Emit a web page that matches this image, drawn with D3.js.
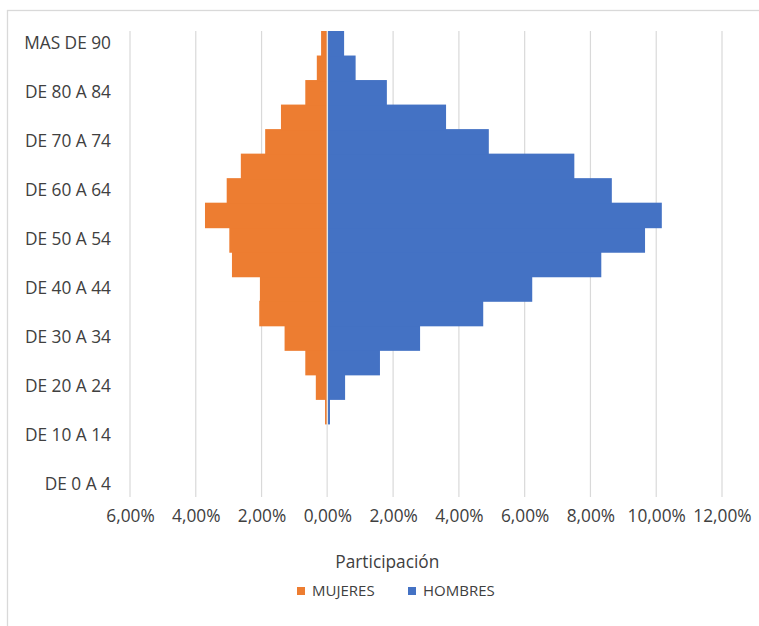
<!DOCTYPE html>
<html>
<head>
<meta charset="utf-8">
<script src="https://cdn.jsdelivr.net/npm/d3@7"></script>
<style>
  html, body { margin: 0; padding: 0; background: #fff; }
  svg { display: block; }
  text { font-family: "Open Sans", "Noto Sans", sans-serif; fill: #404040; }
</style>
</head>
<body>
<script>
const categories = ["DE 0 A 4","DE 5 A 9","DE 10 A 14","DE 15 A 19","DE 20 A 24","DE 25 A 29","DE 30 A 34","DE 35 A 39","DE 40 A 44","DE 45 A 49","DE 50 A 54","DE 55 A 59","DE 60 A 64","DE 65 A 69","DE 70 A 74","DE 75 A 79","DE 80 A 84","DE 85 A 89","MAS DE 90"];
const mujeres = [0,0,0,0.07,0.35,0.67,1.30,2.07,2.05,2.90,2.98,3.72,3.06,2.63,1.89,1.41,0.67,0.32,0.19];
const hombres = [0,0,0,0.08,0.54,1.60,2.82,4.74,6.23,8.33,9.66,10.17,8.65,7.51,4.91,3.61,1.81,0.86,0.51];
const seriesNames = ["MUJERES","HOMBRES"];
const seriesColors = ["#ED7D31","#4472C4"];
const xTicks = [-6,-4,-2,0,2,4,6,8,10,12];
const xTitle = "Participación";

const W = 759, H = 626;
const svg = d3.select("body").append("svg").attr("width", W).attr("height", H);

// chart border (top + left visible)
svg.append("rect").attr("x", 7.5).attr("y", 10.5).attr("width", W + 20).attr("height", H + 20)
  .attr("fill", "none").attr("stroke", "#d9d9d9").attr("stroke-width", 1.3);

const plot = {left: 130, right: 722, top: 31, bottom: 497};
const x = d3.scaleLinear().domain([-6, 12]).range([plot.left, plot.right]);
const y = d3.scaleBand().domain(categories.slice().reverse()).range([plot.top, plot.bottom]).padding(0);

// gridlines
svg.append("g").selectAll("line").data(xTicks).join("line")
  .attr("x1", d => x(d)).attr("x2", d => x(d))
  .attr("y1", plot.top).attr("y2", plot.bottom)
  .attr("stroke", "#d9d9d9").attr("stroke-width", 1.2);

// bars (drawn top to bottom, each overlapping the next slightly to avoid seams)
const rows = categories.map((c, i) => ({c, m: mujeres[i], h: hombres[i]}));
const bars = svg.append("g");
bars.selectAll("rect.m").data(rows.filter(d => d.m > 0)).join("rect")
  .attr("class", "m")
  .attr("x", d => x(-d.m)).attr("width", d => x(0) - x(-d.m))
  .attr("y", d => y(d.c)).attr("height", y.bandwidth() + 1)
  .attr("fill", seriesColors[0]);
bars.selectAll("rect.h").data(rows.filter(d => d.h > 0)).join("rect")
  .attr("class", "h")
  .attr("x", x(0)).attr("width", d => x(d.h) - x(0))
  .attr("y", d => y(d.c)).attr("height", y.bandwidth() + 1)
  .attr("fill", seriesColors[1]);

// zero line
svg.append("line").attr("x1", x(0)).attr("x2", x(0)).attr("y1", plot.top).attr("y2", plot.bottom)
  .attr("stroke", "#e4e4e4").attr("stroke-width", 1.4);

// y labels (every other category)
const yAxis = d3.axisLeft(y).tickValues(categories.filter((c, i) => i % 2 === 0)).tickSize(0).tickPadding(0);
const gy = svg.append("g").attr("transform", `translate(111,0)`).call(yAxis);
gy.select(".domain").remove();
gy.selectAll("text").style("font-family", '"Open Sans", sans-serif').style("font-size", "17.3px").attr("fill", "#404040");

// x axis tick labels
const loc = d3.formatLocale({decimal: ",", thousands: ".", grouping: [3], currency: ["", "€"]});
const fmt = loc.format(".2f");
const xAxis = d3.axisBottom(x).tickValues(xTicks).tickSize(0).tickPadding(0).tickFormat(d => fmt(Math.abs(d)) + "%");
const gx = svg.append("g").attr("transform", `translate(0,${plot.bottom + 13})`).call(xAxis);
gx.select(".domain").remove();
gx.selectAll("text").style("font-family", '"Open Sans", sans-serif').style("font-size", "17.3px").attr("fill", "#404040");

// x title
svg.append("text").attr("x", x(0) + 60).attr("y", 568).attr("text-anchor", "middle")
  .style("font-size", "17.3px").text(xTitle);

// legend
const legend = [{name: seriesNames[0], color: seriesColors[0], x: 297}, {name: seriesNames[1], color: seriesColors[1], x: 408}];
const lg = svg.append("g").selectAll("g").data(legend).join("g").attr("transform", d => `translate(${d.x},0)`);
lg.append("rect").attr("x", 0).attr("y", 587).attr("width", 8).attr("height", 8).attr("fill", d => d.color);
lg.append("text").attr("x", 15).attr("y", 596).style("font-size", "15px").text(d => d.name);
</script>
</body>
</html>
